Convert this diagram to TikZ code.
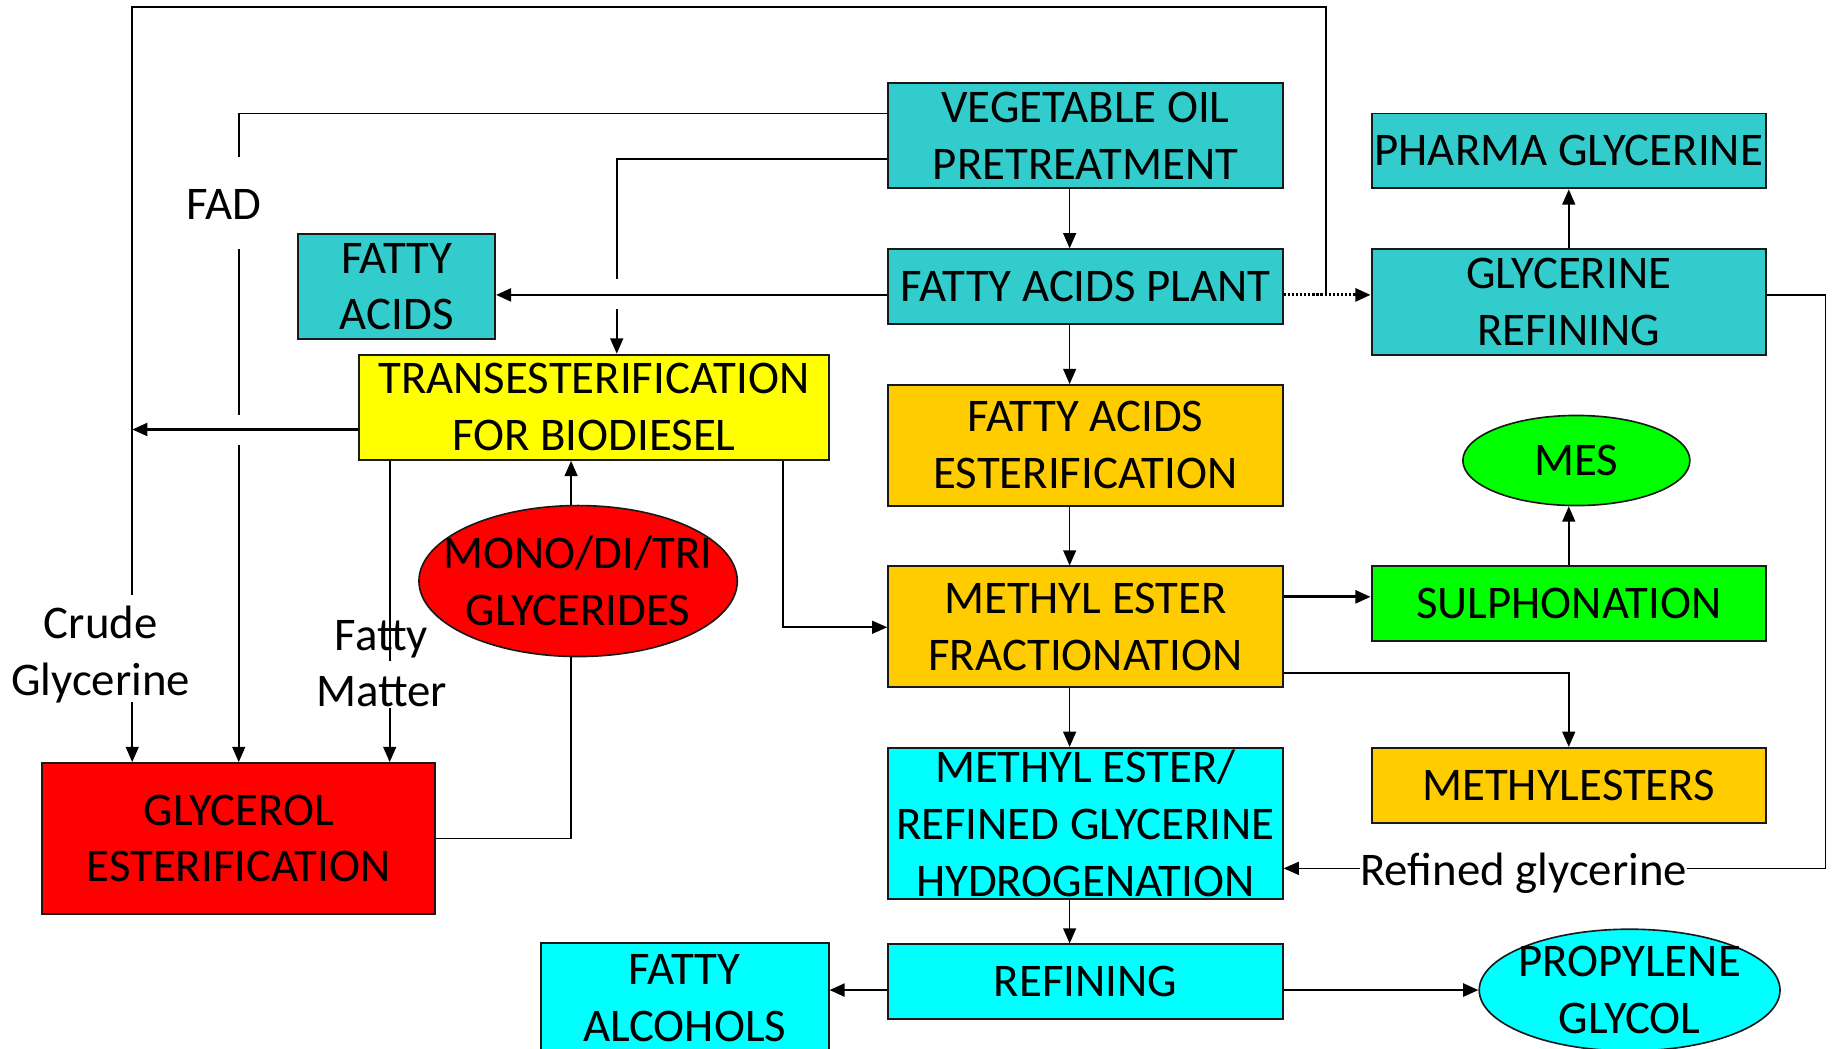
\documentclass[tikz,border=0pt]{standalone}
\usepackage{fontspec}
\setmainfont{Carlito}
\usetikzlibrary{arrows.meta,calc,shapes.geometric}
\definecolor{tealA}{HTML}{33CCCC}
\definecolor{cyanA}{HTML}{00FFFF}
\definecolor{orngA}{HTML}{FFCC00}
\definecolor{yelA}{HTML}{FFFF00}
\definecolor{grnA}{HTML}{00FF00}
\definecolor{redA}{HTML}{FF0000}
\newcommand\bigfnt{\fontsize{40}{48.5}\selectfont}
\begin{document}
\begin{tikzpicture}[x=1pt,y=-1pt,
  box/.style={draw=black!90, line width=1.6pt, inner sep=0pt, align=flush center, font=\bigfnt},
  oval/.style={ellipse, draw=black!90, line width=1.4pt, inner sep=0pt},
  txt/.style={inner sep=0pt, align=flush center, font=\bigfnt},
  ln/.style={line width=1.4pt, draw=black},
  tk/.style={line width=2.4pt, draw=black},
  arr/.style={-{Triangle[length=13pt,width=11pt]}}]
\fill[white] (0,0) rectangle (1568,896);
\useasboundingbox (0,0) rectangle (1568,896);

% boxes
\node[box, fill=tealA, text width=337pt, minimum height=90pt] (veg) at (927.5,116) {VEGETABLE OIL\\PRETREATMENT};
\node[box, fill=tealA, text width=337pt, minimum height=64pt] (fap) at (927.5,245) {FATTY ACIDS PLANT};
\node[box, fill=tealA, text width=337pt, minimum height=64pt] (pharma) at (1340.5,129) {PHARMA GLYCERINE};
\node[box, fill=tealA, text width=337pt, minimum height=90pt] (gr) at (1340.5,258) {GLYCERINE\\REFINING};
\node[box, fill=tealA, text width=168pt, minimum height=90pt] (fa) at (339,245) {FATTY\\ACIDS};
\node[box, fill=yelA, text width=401pt, minimum height=90pt] (trans) at (507.5,348) {TRANSESTERIFICATION\\FOR BIODIESEL};
\node[box, fill=orngA, text width=337pt, minimum height=103pt] (fae) at (927.5,380.5) {FATTY ACIDS\\ESTERIFICATION};
\node[oval, fill=grnA, minimum width=194pt, minimum height=77pt] (mes) at (1347,393.5) {};
\node[txt] (mest0) at (mes.center) {MES};
\node[box, fill=grnA, text width=337pt, minimum height=64pt] (sulph) at (1340.5,516) {SULPHONATION};
\node[box, fill=orngA, text width=337pt, minimum height=103pt] (mef) at (927.5,535.5) {METHYL ESTER\\FRACTIONATION};
\node[box, fill=orngA, text width=337pt, minimum height=64pt] (mest) at (1340.5,671) {METHYLESTERS};
\node[oval, fill=redA, minimum width=272pt, minimum height=129pt] (mono) at (494,496.5) {};
\node[txt] (monot) at (mono.center) {MONO/DI/TRI\\GLYCERIDES};
\node[box, fill=redA, text width=336pt, minimum height=129pt] (glyc) at (204,716.5) {GLYCEROL\\ESTERIFICATION};
\node[box, fill=cyanA, text width=337pt, minimum height=129pt] (hyd) at (927.5,703.5) {METHYL ESTER/\\REFINED GLYCERINE\\HYDROGENATION};
\node[box, fill=cyanA, text width=337pt, minimum height=64pt] (ref) at (927.5,839) {REFINING};
\node[box, fill=cyanA, text width=246pt, minimum height=94pt] (falc) at (585,853) {FATTY\\ALCOHOLS};
\node[oval, fill=cyanA, minimum width=257pt, minimum height=104pt] (prop) at (1392.5,846) {};
\node[txt] (propt) at (prop.center) {PROPYLENE\\GLYCOL};

% labels
\node[txt] (fad) at (191,175) {FAD};
\node[txt] (crude) at (86,559) {Crude\\Glycerine};
\node[txt] (fm) at (326,567) {Fatty\\Matter};

% free-end coordinates
\coordinate (cgA) at (113,508);
\coordinate (cgB) at (113,600);
\coordinate (loopR) at (1133,252);
\coordinate (cgJ) at (113,367);

% crude glycerine loop
\draw[ln] (cgA) -- (113,6) -- (1133,6) -- (loopR);
\draw[ln,arr] (cgB) -- (113,0 |- glyc.north);
\draw[tk,arr] (trans.west |- 0,367) -- (cgJ);

% FAD line
\draw[ln] (veg.west |- 0,97) -- (204,97) -- (204,134);
\draw[ln] (204,213) -- (204,355);
\draw[ln,arr] (204,380) -- (204,0 |- glyc.north);

% veg oil to transesterification
\draw[ln] (veg.west |- 0,136) -- (527,136) -- (527,238);
\draw[ln,arr] (527,264) -- (527,0 |- trans.north);

% main column
\draw[ln,arr] (914,0 |- veg.south) -- (914,0 |- fap.north);
\draw[ln,arr] (914,0 |- fap.south) -- (914,0 |- fae.north);
\draw[ln,arr] (914,0 |- fae.south) -- (914,0 |- mef.north);
\draw[ln,arr] (914,0 |- mef.south) -- (914,0 |- hyd.north);
\draw[ln,arr] (914,0 |- hyd.south) -- (914,0 |- ref.north);

\draw[tk,arr] (fap.west |- 0,252) -- (fa.east |- 0,252);
\draw[line width=2.6pt, dash pattern=on 2pt off 1.5pt, arr] (fap.east |- 0,252) -- (gr.west |- 0,252);
\draw[ln,arr] (gr.north) -- (pharma.south);

% fatty matter
\draw[ln] (333,0 |- trans.south) -- (333,565);
\draw[ln,arr] (333,605) -- (333,0 |- glyc.north);

% trans to fractionation
\draw[ln,arr] (669,0 |- trans.south) |- (mef.west |- 0,536);

% mono/di/tri
\draw[ln,arr] (mono.north -| 488,0) -- (488,0 |- trans.south);
\draw[ln] (glyc.east) -| (mono.south -| 488,0);

% fractionation outputs
\draw[tk,arr] (mef.east |- 0,510) -- (sulph.west |- 0,510);
\draw[ln,arr] (sulph.north) -- (sulph.north |- mes.south);
\draw[ln,arr] (mef.east |- 0,575) -| (mest.north);

% refined glycerine
\draw[ln,arr] (gr.east |- 0,252) -- (1560,252) -- (1560,742) -- (hyd.east |- 0,742);
\node[txt, fill=white, anchor=base] (rg) at (1302,757) {Refined glycerine};

% refining outputs
\draw[tk,arr] (ref.west |- 0,846) -- (falc.east |- 0,846);
\draw[tk,arr] (ref.east |- 0,846) -- (prop.west);
\end{tikzpicture}
\end{document}
